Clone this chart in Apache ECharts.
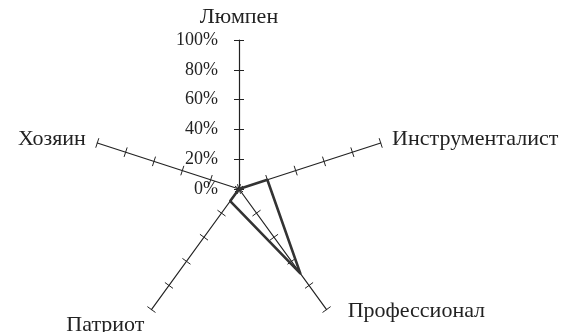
<!DOCTYPE html>
<html><head><meta charset="utf-8">
<script src="https://cdn.jsdelivr.net/npm/echarts@6/dist/echarts.min.js"></script>
<style>html,body{margin:0;padding:0;background:#fff}#c{width:567px;height:332px}</style>
</head><body><div id="c"></div>
<script>
// clockwise order starting from top
const categories = ['Люмпен', 'Инструменталист', 'Профессионал', 'Патриот', 'Хозяин'];
const values = [0, 20, 70, 10, 0];
const tickValues = [0, 20, 40, 60, 80, 100];

// ECharts radar runs counter-clockwise: reorder for the library
const order = [0, 4, 3, 2, 1];
const chart = echarts.init(document.getElementById('c'));
const FONT = '"Liberation Serif", "DejaVu Serif", serif';
const ind = order.map(i => ({ name: categories[i], max: 100, min: 0 }));
const namePad = [[0, 0, 0, 0], [0, 0, 0, 0], [0, 0, 16, 14], [12, 0, 0, 0], [0, 0, 0, 0]];
const rich = {};
categories.forEach((c, i) => {
  rich['n' + i] = { color: '#222', fontFamily: FONT, fontSize: 22, padding: namePad[i] };
});
const radarBase = {
  center: [239, 189], radius: 149, startAngle: 90, shape: 'polygon',
  splitNumber: 5, indicator: ind,
  splitLine: { show: false }, splitArea: { show: false }
};
chart.setOption({
  animation: false,
  radar: [
    Object.assign({}, radarBase, {
      axisName: {
        color: '#222', fontFamily: FONT, fontSize: 22,
        formatter: (name) => '{n' + categories.indexOf(name) + '|' + name + '}',
        rich: rich
      },
      nameGap: 12,
      axisLine: { show: true, lineStyle: { color: '#222', width: 1.2 } },
      axisTick: { show: true, length: 5, lineStyle: { color: '#222', width: 1 } },
      axisLabel: { show: false }
    }),
    Object.assign({}, radarBase, {
      axisName: { show: false },
      axisLine: { show: false },
      axisTick: { show: true, length: -5, lineStyle: { color: '#222', width: 1 } },
      axisLabel: { show: false }
    })
  ],
  grid: { left: 239, top: 40, width: 1, height: 149 },
  xAxis: { type: 'value', show: false },
  yAxis: {
    type: 'value', min: tickValues[0], max: tickValues[tickValues.length - 1], interval: 20,
    axisLine: { show: false }, axisTick: { show: false }, splitLine: { show: false },
    axisLabel: { formatter: '{value}%', color: '#222', fontFamily: FONT, fontSize: 18, margin: 21 }
  },
  series: [{
    type: 'radar', radarIndex: 0, symbol: 'none',
    lineStyle: { color: '#333', width: 2.6 },
    data: [{ value: order.map(i => values[i]) }]
  }]
});
</script></body></html>
